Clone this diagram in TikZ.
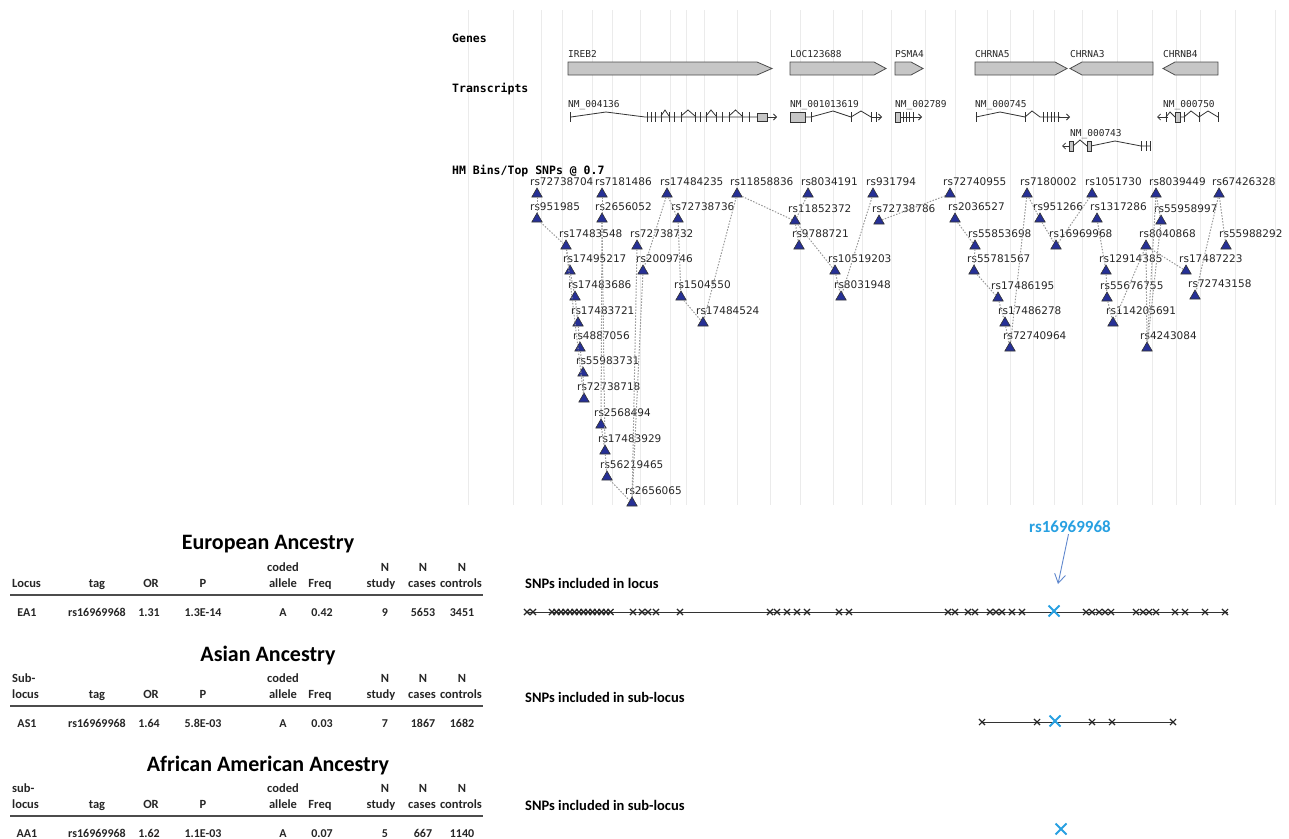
\documentclass[tikz,border=0pt]{standalone}
\usepackage{fontspec}
\setmainfont{Carlito}
\newfontfamily\hmfont{DejaVu Sans}
\newfontfamily\hmmono{DejaVu Sans Mono}
\usetikzlibrary{arrows.meta,shapes.geometric,shapes.misc}

\definecolor{trifill}{RGB}{38,48,150}
\definecolor{snpblue}{RGB}{40,160,225}
\definecolor{arrowblue}{RGB}{95,135,205}

\tikzset{
  vline/.style={draw=gray!16, line width=1pt},
  snp/.style={regular polygon, regular polygon sides=3, draw=black!80, fill=trifill,
    line width=0.6pt, inner sep=0pt, minimum size=12pt},
  snplbl/.style={font=\hmfont\fontsize{10.5}{10.5}\selectfont, text=black!85,
    inner sep=0pt, anchor=base west},
  bin/.style={draw=gray!80, line width=1pt, dash pattern=on 1.5pt off 1.5pt},
  genebar/.style={draw=black!70, fill=gray!45, line width=0.8pt},
  genelbl/.style={font=\hmmono\fontsize{9.5}{9.5}\selectfont, text=black!85,
    inner sep=0pt, anchor=base west},
  trk/.style={draw=black!80, line width=0.8pt},
  trkarrow/.style={trk, -{Straight Barb[length=3pt,width=6pt]}},
  hdr/.style={font=\hmmono\bfseries\fontsize{11.5}{11.5}\selectfont, inner sep=0pt, anchor=base west},
  ttl/.style={font=\bfseries\fontsize{22}{22}\selectfont, inner sep=0pt},
  th/.style={font=\bfseries\fontsize{12.5}{12.5}\selectfont, text=black!85, inner sep=0pt, anchor=base},
  thl/.style={th, anchor=base west},
  td/.style={font=\bfseries\fontsize{12}{12}\selectfont, text=black!85, inner sep=0pt, anchor=base},
  rule/.style={draw=black!70, line width=2.2pt},
  snphead/.style={font=\bfseries\fontsize{14.5}{14.5}\selectfont, inner sep=0pt, anchor=base west},
  track/.style={draw=black!80, line width=0.8pt},
  xm/.style={cross out, draw=black!85, line width=1.1pt, inner sep=0pt, minimum size=5pt},
  bigx/.style={cross out, draw=snpblue, line width=2pt, inner sep=0pt, minimum size=9pt},
  bluelbl/.style={font=\bfseries\fontsize{17}{17}\selectfont, text=snpblue, inner sep=1pt},
  bluearrow/.style={draw=arrowblue, line width=0.9pt, -{Straight Barb[length=9pt,width=11pt]}}
}

\begin{document}
\begin{tikzpicture}[x=1pt,y=-1pt]
\useasboundingbox (0,0) rectangle (1289,838);

% grid behind the browser panel
\foreach \x in {468,513,541,562,592,612,640,670,686,704,737,770,800,833,862,891,925,955,987,1010,1033,1054,1082,1117,1152,1176,1200,1235,1275}
  \draw[vline] (\x,10) -- (\x,505);

% track titles
\node[hdr] (genes) at (452,42) {Genes};
\node[hdr] (transcripts) at (452,92) {Transcripts};
\node[hdr] (bins) at (452,174) {HM Bins/Top SNPs @ 0.7};

% genes
\draw[genebar] (568,62) -- (757,62) -- (772,68.5) -- (757,75) -- (568,75) -- cycle;
\draw[genebar] (790,62) -- (874,62) -- (886,68.5) -- (874,75) -- (790,75) -- cycle;
\draw[genebar] (895,62) -- (911,62) -- (923,68.5) -- (911,75) -- (895,75) -- cycle;
\draw[genebar] (975,62) -- (1055,62) -- (1067,68.5) -- (1055,75) -- (975,75) -- cycle;
\draw[genebar] (1070,68.5) -- (1082,62) -- (1153,62) -- (1153,75) -- (1082,75) -- cycle;
\draw[genebar] (1163,68.5) -- (1175,62) -- (1218,62) -- (1218,75) -- (1175,75) -- cycle;
\foreach \x/\g [count=\i] in {568/IREB2, 790/LOC123688, 895/PSMA4, 975/CHRNA5, 1070/CHRNA3, 1163/CHRNB4}
  \node[genelbl] (gene\i) at (\x,57) {\g};

% transcripts
\foreach \x/\y/\t [count=\i] in {568/107/NM\_004136, 790/107/NM\_001013619, 895/107/NM\_002789,
    975/107/NM\_000745, 1070/136/NM\_000743, 1163/107/NM\_000750}
  \node[genelbl] (tx\i) at (\x,\y) {\t};
% NM_004136
\draw[trk] (570,112) -- (570,122);
\draw[trk] (571,117) -- (606,112) -- (645,117) -- (757,117);
\foreach \x in {647,651,655,661,669,674,681,695,700,706,716,722,729,742,749}
  \draw[trk] (\x,112) -- (\x,122);
\foreach \a/\b in {661/669,681/695,706/716,729/742}
  \draw[trk] (\a,116) -- ({(\a+\b)/2},110) -- (\b,116);
\draw[trk, fill=gray!45] (757,113) rectangle (767,121);
\draw[trkarrow] (767,117) -- (777,117);
% NM_001013619
\draw[trk, fill=gray!45] (790,112) rectangle (805,122);
\draw[trk] (805,117) -- (811,117) -- (833,111) -- (851,117) -- (861,111) -- (871,117);
\foreach \x in {811,851,871,876} \draw[trk] (\x,112) -- (\x,122);
\draw[trkarrow] (871,117) -- (882,117);
% NM_002789
\draw[trk, fill=gray!45] (895,112) rectangle (900,122);
\foreach \x in {903,906,909,913} \draw[trk] (\x,112) -- (\x,122);
\draw[trkarrow] (900,117) -- (922,117);
% NM_000745
\draw[trk] (976,112) -- (976,122);
\draw[trk] (976,117) -- (1000,112) -- (1025,117) -- (1032,111) -- (1040,117) -- (1060,117);
\foreach \x in {1025,1043,1047,1051,1054,1058} \draw[trk] (\x,112) -- (\x,122);
\draw[trkarrow] (1058,117) -- (1070,117);
% NM_000743
\draw[trkarrow] (1070,146) -- (1062,146);
\draw[trk, fill=gray!45] (1069,141) rectangle (1073,151);
\draw[trk] (1073,146) -- (1080,140) -- (1087,146);
\draw[trk, fill=gray!45] (1087,141) rectangle (1091,151);
\draw[trk] (1091,146) -- (1115,141) -- (1141,146) -- (1150,146);
\foreach \x in {1141,1146,1150} \draw[trk] (\x,141) -- (\x,151);
% NM_000750
\draw[trkarrow] (1168,117) -- (1157,117);
\draw[trk] (1166,112) -- (1166,122);
\draw[trk] (1166,117) -- (1170,112) -- (1175,117);
\draw[trk, fill=gray!45] (1175,112) rectangle (1180,122);
\draw[trk] (1180,117) -- (1184,117) -- (1191,111) -- (1199,117) -- (1208,111) -- (1218,117);
\foreach \x in {1184,1199,1218} \draw[trk] (\x,112) -- (\x,122);

% tag SNPs
\foreach \n/\x/\y in {
    rs72738704/537/194, rs7181486/602/194, rs17484235/667/194, rs11858836/737/194,
    rs8034191/808/194, rs931794/873/194, rs72740955/950/194, rs7180002/1027/194,
    rs1051730/1092/194, rs8039449/1156/194, rs67426328/1219/194,
    rs951985/537/219, rs2656052/602/219, rs72738736/678/219, rs11852372/795/221,
    rs72738786/879/221, rs2036527/955/219, rs951266/1040/219, rs1317286/1097/219,
    rs55958997/1161/221,
    rs17483548/566/246, rs72738732/637/246, rs9788721/799/246, rs55853698/975/246,
    rs16969968/1056/246, rs8040868/1146/246, rs55988292/1226/246,
    rs17495217/570/271, rs2009746/643/271, rs10519203/835/271, rs55781567/974/271,
    rs12914385/1106/271, rs17487223/1186/271,
    rs17483686/575/297, rs1504550/681/297, rs8031948/841/297, rs17486195/998/298,
    rs55676755/1107/298, rs72743158/1195/296,
    rs17483721/578/323, rs17484524/703/323, rs17486278/1005/323, rs114205691/1113/323,
    rs4887056/580/348, rs72740964/1010/348, rs4243084/1147/348,
    rs55983731/583/373, rs72738718/584/399, rs2568494/601/425, rs17483929/605/451,
    rs56219465/607/477, rs2656065/632/503} {
  \node[snp] (\n) at (\x,\y) {};
  \node[snplbl] (lab\n) at (\x-7,\y-9) {\n};
}

% bins
\foreach \a/\b in {
    rs72738704/rs951985, rs951985/rs17483548, rs17483548/rs17495217, rs17495217/rs17483686,
    rs17483686/rs17483721, rs17483721/rs4887056, rs4887056/rs55983731, rs55983731/rs72738718,
    rs7181486/rs2656052, rs2656052/rs2568494, rs2656052/rs17483929, rs2568494/rs17483929,
    rs17483929/rs56219465, rs56219465/rs2656065, rs17483548/rs72738718,
    rs17484235/rs72738736, rs17484235/rs2009746, rs72738732/rs2656065, rs2009746/rs2656065,
    rs72738736/rs1504550, rs1504550/rs17484524, rs11858836/rs17484524, rs11858836/rs11852372,
    rs8034191/rs11852372, rs11852372/rs9788721, rs11852372/rs10519203, rs10519203/rs8031948,
    rs931794/rs8031948, rs72740955/rs72738786,
    rs2036527/rs55853698, rs55853698/rs55781567, rs55781567/rs17486195,
    rs17486195/rs17486278, rs17486278/rs72740964, rs7180002/rs72740964,
    rs7180002/rs951266, rs951266/rs16969968, rs1051730/rs16969968, rs1317286/rs12914385,
    rs12914385/rs55676755, rs55676755/rs114205691,
    rs8039449/rs55958997, rs8039449/rs4243084, rs55958997/rs4243084, rs8040868/rs4243084,
    rs8040868/rs114205691, rs8040868/rs17487223, rs67426328/rs72743158,
    rs67426328/rs55988292}
  \draw[bin] (\a) -- (\b);

% association tables
\foreach \tb/\oy/\anc/\rowa/\rowb in {eu/0/European Ancestry/{}/Locus,
    as/111/Asian Ancestry/Sub-/locus, af/221/African American Ancestry/sub-/locus} {
  \node[ttl] (\tb-title) at (268,{544+\oy}) {\anc};
  \node[thl] (\tb-ha) at (12,{571+\oy}) {\rowa};
  \node[thl] (\tb-hb) at (12,{587+\oy}) {\rowb};
  \foreach \x/\t [count=\i] in {283/coded, 385/N, 423/N, 462/N}
    \node[th] (\tb-a\i) at (\x,{571+\oy}) {\t};
  \foreach \x/\t [count=\i] in {97/tag, 151/OR, 203/P, 283/allele, 320/Freq,
      381/study, 422/cases, 461/controls}
    \node[th] (\tb-b\i) at (\x,{587+\oy}) {\t};
  \draw[rule] (10,{595+\oy}) -- (483,{595+\oy});
}
\foreach \x/\t [count=\i] in {27/EA1, 97/rs16969968, 149/1.31, 203/1.3E-14, 283/A,
    322/0.42, 385/9, 423/5653, 462/3451}
  \node[td] (eu-d\i) at (\x,616) {\t};
\foreach \x/\t [count=\i] in {27/AS1, 97/rs16969968, 149/1.64, 203/5.8E-03, 283/A,
    322/0.03, 385/7, 423/1867, 462/1682}
  \node[td] (as-d\i) at (\x,727) {\t};
\foreach \x/\t [count=\i] in {27/AA1, 97/rs16969968, 149/1.62, 203/1.1E-03, 283/A,
    322/0.07, 385/5, 423/667, 462/1140}
  \node[td] (af-d\i) at (\x,837) {\t};

% SNPs in each locus
\node[snphead] (inlocus) at (525,588) {SNPs included in locus};
\node[snphead] (insubas) at (525,702) {SNPs included in sub-locus};
\node[snphead] (insubaf) at (525,810) {SNPs included in sub-locus};

\draw[track] (527,612) -- (1228,612);
\foreach \x [count=\i] in {552,556.5,...,611}
  \node[xm] (lc\i) at (\x,612) {};
\foreach \x [count=\i] in {527,533,633,642,648,656,680,770,777,787,797,807,839,849,
    948,955,968,975,990,996,1002,1012,1022,1086,1092,1099,1105,1111,
    1136,1143,1149,1156,1175,1185,1205,1225}
  \node[xm] (lx\i) at (\x,612) {};
\node[bigx] (hit) at (1054,611) {};
\node[bluelbl] (hitlbl) at (1070,527) {rs16969968};
\coordinate (hittip) at (1058,584);
\draw[bluearrow] (hitlbl) -- (hittip);

\draw[track] (982,722) -- (1173,722);
\foreach \x [count=\i] in {982,1037,1092,1112,1173}
  \node[xm] (ax\i) at (\x,722) {};
\node[bigx] (hitas) at (1055,721) {};
\node[bigx] (hitaf) at (1061,829) {};
\end{tikzpicture}
\end{document}
